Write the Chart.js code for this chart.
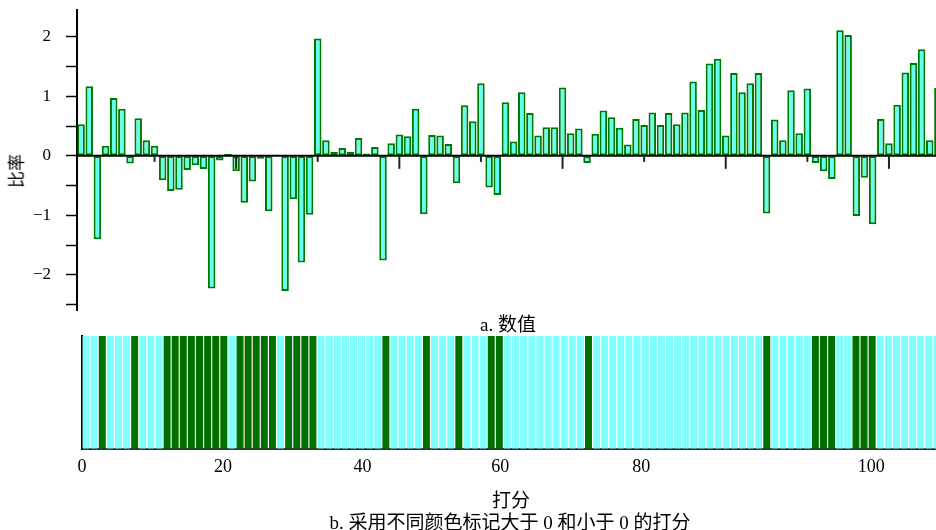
<!DOCTYPE html>
<html>
<head>
<meta charset="utf-8">
<script src="https://cdn.jsdelivr.net/npm/chart.js@4/dist/chart.umd.min.js"></script>
<style>
  html, body { margin:0; padding:0; width:936px; height:530px; overflow:hidden; background:#fff; }
  canvas { position:absolute; left:0; }
  #top { top:0; }
  #bot { top:330px; }
  .txt { position:absolute; font-family:"Liberation Serif","Noto Sans CJK SC",serif; color:#000; white-space:nowrap; transform:translate(-50%,-50%); }
</style>
</head>
<body>
<canvas id="top" width="942" height="320"></canvas>
<canvas id="bot" width="941" height="150"></canvas>
<div class="txt" style="left:15px;top:171px;font-size:17px;transform:translate(-50%,-50%) rotate(-90deg);">比率</div>
<div class="txt" style="left:508px;top:322px;font-size:19px;">a. 数值</div>
<div class="txt" style="left:511px;top:498px;font-size:19px;">打分</div>
<div class="txt" style="left:510px;top:520px;font-size:19px;">b. 采用不同颜色标记大于 0 和小于 0 的打分</div>
<script>
// ---- data ----
const scores = Array.from({length: 106}, (_, i) => String(i + 1));
const values = [
  0.53, 1.17, -1.40, 0.17, 0.97, 0.79, -0.13, 0.63, 0.26, 0.17,
  -0.41, -0.59, -0.57, -0.24, -0.16, -0.22, -2.23, -0.08, 0.03, -0.26,
  -0.79, -0.43, -0.05, -0.93, 0.02, -2.27, -0.73, -1.79, -0.99, 1.97,
  0.26, 0.07, 0.13, 0.07, 0.30, 0.04, 0.15, -1.76, 0.21, 0.36,
  0.33, 0.79, -0.98, 0.35, 0.34, 0.20, -0.46, 0.85, 0.58, 1.22,
  -0.53, -0.66, 0.90, 0.24, 1.07, 0.72, 0.34, 0.48, 0.48, 1.15,
  0.38, 0.46, -0.12, 0.37, 0.76, 0.65, 0.47, 0.19, 0.62, 0.52,
  0.73, 0.52, 0.72, 0.53, 0.73, 1.25, 0.77, 1.55, 1.63, 0.34,
  1.39, 1.07, 1.22, 1.39, -0.97, 0.61, 0.26, 1.10, 0.38, 1.13,
  -0.12, -0.26, -0.39, 2.11, 2.03, -1.01, -0.37, -1.15, 0.62, 0.21,
  0.86, 1.40, 1.56, 1.79, 0.26, 1.14
];
const yTickLabels = ['2', '1', '0', '\u22121', '\u22122'];
const bottomTickLabels = ['0', '20', '40', '60', '80', '100'];
const bottomTickValues = [0.5, 17.9, 35.1, 52.1, 69.5, 97.9];

const serif = '"Liberation Serif", "Times New Roman", serif';

// ---- top chart ----
const zeroLinePlugin = {
  id: 'zeroLine',
  afterDatasetsDraw(chart) {
    const {ctx, chartArea, scales} = chart;
    const y0 = scales.y.getPixelForValue(0);
    ctx.save();
    ctx.strokeStyle = '#000';
    ctx.lineWidth = 2;
    ctx.beginPath();
    ctx.moveTo(chartArea.left, y0);
    ctx.lineTo(chartArea.right, y0);
    ctx.stroke();
    ctx.strokeStyle = '#222';
    ctx.lineWidth = 2;
    for (let k = 10; k <= scores.length; k += 10) {
      const x = scales.x.getPixelForValue(k - 1);
      const len = (k % 20 === 0) ? 13 : 6;
      ctx.beginPath();
      ctx.moveTo(x, y0);
      ctx.lineTo(x, y0 + len);
      ctx.stroke();
    }
    ctx.restore();
  }
};

new Chart(document.getElementById('top'), {
  type: 'bar',
  data: {
    labels: scores,
    datasets: [{
      data: values,
      backgroundColor: '#66ffee',
      borderColor: '#007800',
      borderWidth: 2,
      borderSkipped: false,
      barPercentage: 0.92,
      categoryPercentage: 1.0
    }]
  },
  options: {
    responsive: false,
    devicePixelRatio: 1,
    animation: false,
    layout: { padding: { top: 10, bottom: 10, left: 0, right: 0 } },
    plugins: { legend: { display: false }, tooltip: { enabled: false } },
    scales: {
      x: { type: 'category', display: false, offset: true },
      y: {
        min: -2.59, max: 2.45,
        afterFit(s) { s.width = 77; s.paddingTop = 0; s.paddingBottom = 0; },
        ticks: {
          stepSize: 0.5,
          includeBounds: false,
          autoSkip: false,
          color: '#000',
          padding: 15,
          font: { family: serif, size: 17 },
          callback(v) {
            if (Math.abs(v - Math.round(v)) > 1e-6) return '';
            return yTickLabels[2 - Math.round(v)];
          }
        },
        grid: { drawOnChartArea: false, drawTicks: true, tickLength: 11, tickColor: '#000', tickWidth: 1.5 },
        border: { color: '#000', width: 2 }
      }
    }
  },
  plugins: [zeroLinePlugin]
});

// ---- bottom chart ----
new Chart(document.getElementById('bot'), {
  type: 'bar',
  data: {
    datasets: [{
      data: values.map((v, i) => ({ x: i + 1, y: 1 })),
      backgroundColor: values.map(v => v >= 0 ? '#80ffff' : '#007000'),
      borderWidth: 0,
      barPercentage: 0.86,
      categoryPercentage: 1.0
    }]
  },
  options: {
    responsive: false,
    devicePixelRatio: 1,
    animation: false,
    layout: { padding: { top: 6, bottom: 0, left: 0, right: 0 } },
    plugins: { legend: { display: false }, tooltip: { enabled: false } },
    scales: {
      x: {
        type: 'linear',
        offset: false,
        min: 0.5, max: scores.length + 0.5,
        afterFit(s) { s.height = 31; s.paddingLeft = 0; s.paddingRight = 0; },
        afterBuildTicks(s) { s.ticks = bottomTickValues.map(v => ({ value: v })); },
        ticks: {
          autoSkip: false,
          maxRotation: 0,
          color: '#000',
          padding: 7,
          font: { family: serif, size: 18 },
          callback(v, idx) { return bottomTickLabels[idx]; }
        },
        grid: { drawOnChartArea: false, drawTicks: false },
        border: { color: '#333', width: 2 }
      },
      y: {
        min: 0, max: 1,
        afterFit(s) { s.width = 82; s.paddingTop = 0; s.paddingBottom = 0; },
        ticks: { display: false },
        grid: { drawOnChartArea: false, drawTicks: false },
        border: { color: '#000', width: 2 }
      }
    }
  }
});
</script>
</body>
</html>
